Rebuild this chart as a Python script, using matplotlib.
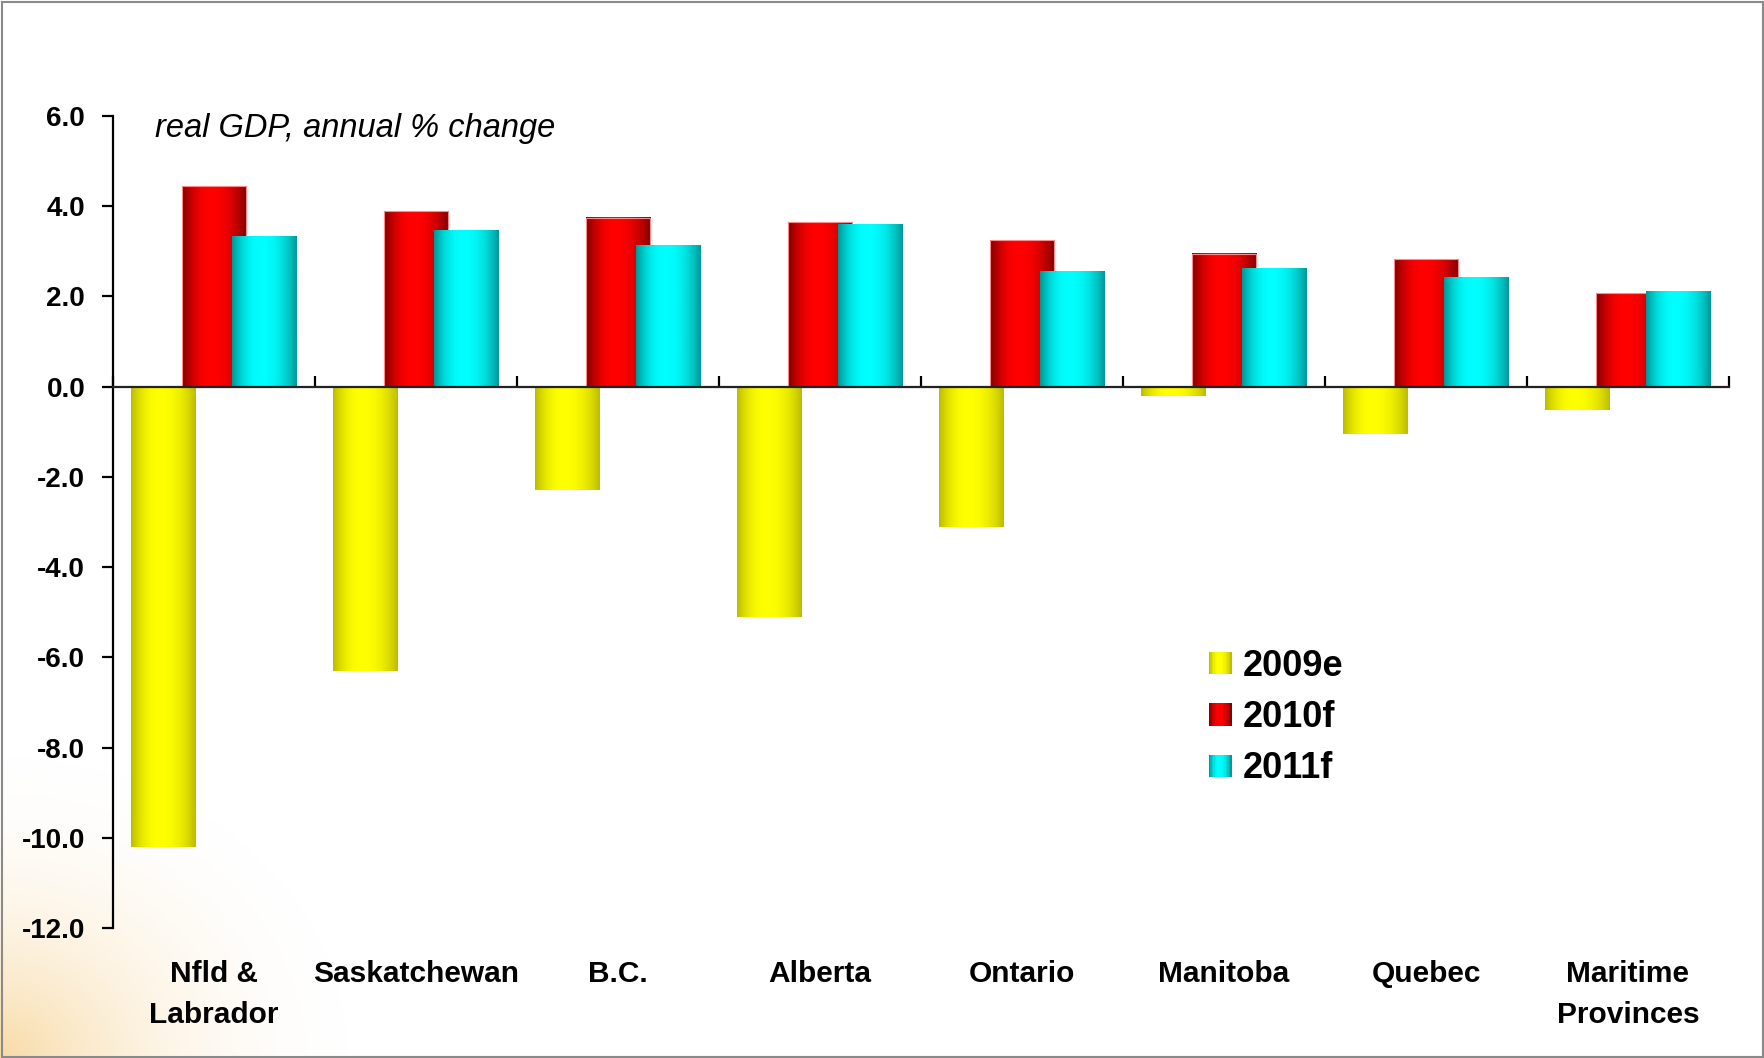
import numpy as np
import matplotlib
matplotlib.use("Agg")
import matplotlib.pyplot as plt
from matplotlib.patches import Rectangle
from matplotlib.legend_handler import HandlerBase

# ---------------- data ----------------
categories = ["Nfld &\nLabrador", "Saskatchewan", "B.C.", "Alberta", "Ontario",
              "Manitoba", "Quebec", "Maritime\nProvinces"]
series_names = ["2009e", "2010f", "2011f"]
gdp_2009e = [-10.2, -6.3, -2.3, -5.1, -3.1, -0.2, -1.05, -0.52]
gdp_2010f = [4.45, 3.9, 3.75, 3.65, 3.25, 2.95, 2.83, 2.08]
gdp_2011f = [3.33, 3.48, 3.13, 3.6, 2.55, 2.62, 2.43, 2.12]
y_ticks = [6.0, 4.0, 2.0, 0.0, -2.0, -4.0, -6.0, -8.0, -10.0, -12.0]
title_text = "real GDP, annual % change"

# ---------------- style ----------------
plt.rcParams['font.family'] = ['Liberation Sans', 'DejaVu Sans']
plt.rcParams['axes.unicode_minus'] = False

W, H = 1764, 1058
fig = plt.figure(figsize=(W / 100, H / 100), dpi=100)
fig.patch.set_facecolor('white')

# background glow in bottom-left corner
bg = fig.add_axes([0, 0, 1, 1], zorder=0)
bg.set_axis_off()
yy, xx = np.mgrid[0:H:2, 0:W:2]
d = np.sqrt((xx / 380.0) ** 2 + ((H - yy) / 330.0) ** 2)
a = np.clip(1 - d, 0, 1) ** 2.2
img = np.ones((yy.shape[0], yy.shape[1], 4))
img[..., 0] = 247 / 255
img[..., 1] = 212 / 255
img[..., 2] = 150 / 255
img[..., 3] = a * 0.85
bg.imshow(img, extent=[0, W, H, 0], aspect='auto')
bg.set_xlim(0, W)
bg.set_ylim(H, 0)
# figure border
bg.add_patch(Rectangle((1.5, 1.5), W - 3, H - 3, fill=False, edgecolor='#8a8a8a', lw=1.5))

left, right = 113 / W, 1729 / W
bottom, top = 1 - 928 / H, 1 - 116 / H
ax = fig.add_axes([left, bottom, right - left, top - bottom], zorder=1)
ax.set_facecolor('none')

colors_edge = [(0.74, 0.74, 0.0), (0.50, 0.0, 0.0), (0.0, 0.60, 0.60)]
colors_mid = [(1.0, 1.0, 0.0), (1.0, 0.0, 0.0), (0.0, 1.0, 1.0)]


def grad_row(ci, n=64):
    t = np.linspace(0, 1, n)
    w = np.where(t < 0.45, np.clip(t / 0.45, 0, 1), np.clip((1 - t) / 0.55, 0, 1))
    w = 1 - (1 - w) ** 2.2
    e = np.array(colors_edge[ci])
    m = np.array(colors_mid[ci])
    row = e[None, :] * (1 - w[:, None]) + m[None, :] * w[:, None]
    return row


series = [gdp_2009e, gdp_2010f, gdp_2011f]
offsets = [-0.25, 0.0, 0.25]
bw = 0.317
x = np.arange(len(categories)) + 0.5

for si, vals in enumerate(series):
    bars = ax.bar(x + offsets[si], vals, width=bw, facecolor='none', edgecolor='none',
                  zorder=2 + si)
    row = grad_row(si)[None, :, :]
    for b in bars:
        x0 = b.get_x()
        x1 = x0 + b.get_width()
        y0 = b.get_y()
        y1 = y0 + b.get_height()
        ax.imshow(row, extent=[x0, x1, min(y0, y1), max(y0, y1)], aspect='auto',
                  zorder=2 + si, interpolation='bilinear')
        if si == 1:
            ax.add_patch(Rectangle((x0, y0), b.get_width(), b.get_height(), fill=False,
                                   edgecolor='#ff8a8a', lw=0.8, zorder=2 + si))

ax.set_xlim(0, len(categories))
ax.set_ylim(-12, 6)

# axes styling
for s in ['top', 'right']:
    ax.spines[s].set_visible(False)
ax.spines['left'].set_linewidth(1.6)
ax.spines['bottom'].set_position(('data', 0))
ax.spines['bottom'].set_linewidth(1.6)
ax.spines['bottom'].set_color('#222222')
ax.spines['bottom'].set_zorder(6)

ax.set_yticks(y_ticks)
ax.set_yticklabels([f"{v:.1f}" for v in y_ticks], fontsize=20, fontweight='bold')
ax.tick_params(axis='y', direction='out', length=8, width=1.6, pad=12)
ax.set_xticks(np.arange(len(categories) + 1))
ax.set_xticklabels([])
ax.tick_params(axis='x', direction='in', length=8, width=1.6)

for xi, lab in zip(x, categories):
    ax.text(xi, -0.039, lab, transform=ax.get_xaxis_transform(), ha='center', va='top',
            fontsize=21.5, fontweight='bold', linespacing=1.62)

ax.text(0.0258, 0.9845, title_text, transform=ax.transAxes, ha='left', va='center',
        fontsize=23.5, fontstyle='italic')


# legend with gradient squares
class GradHandler(HandlerBase):
    def __init__(self, ci):
        super().__init__()
        self.ci = ci

    def create_artists(self, legend, orig_handle, xdescent, ydescent, width, height,
                       fontsize, trans):
        row = grad_row(self.ci, 16)
        side = height
        n = len(row)
        arts = []
        for k in range(n):
            r = Rectangle((-xdescent + k * side / n, -ydescent), side / n + 0.3, side,
                          facecolor=row[k], edgecolor='none', transform=trans)
            arts.append(r)
        return arts


handles = [Rectangle((0, 0), 1, 1) for _ in series_names]
leg = ax.legend(handles, series_names,
                handler_map={h: GradHandler(i) for i, h in enumerate(handles)},
                loc='upper left', bbox_to_anchor=(1209 / W, 1 - 649 / H),
                bbox_transform=fig.transFigure, frameon=False,
                prop={'size': 26, 'weight': 'bold'}, handlelength=0.58, handleheight=0.58,
                handletextpad=0.35, labelspacing=0.45, borderpad=0, borderaxespad=0)

fig.savefig("out.png", dpi=100)
